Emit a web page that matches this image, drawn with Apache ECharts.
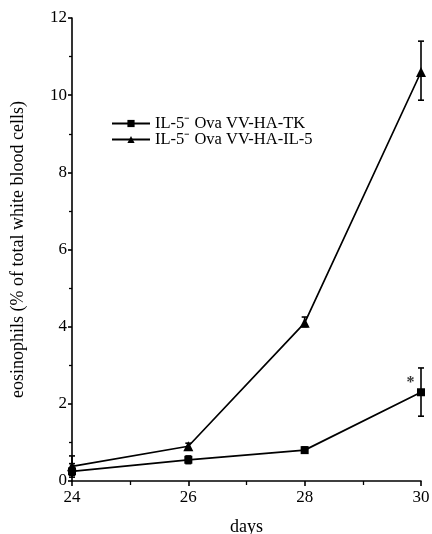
<!DOCTYPE html>
<html>
<head>
<meta charset="utf-8">
<script src="https://cdn.jsdelivr.net/npm/echarts@6/dist/echarts.min.js"></script>
<style>html,body{margin:0;padding:0;background:#fff}#c{width:432px;height:534px}</style>
</head>
<body>
<div id="c"></div>
<script>
const days = [24, 26, 28, 30];
const tkMean = [0.25, 0.55, 0.8, 2.3];
const tkLow = [0.1, 0.45, 0.72, 1.68];
const tkHigh = [0.45, 0.65, 0.88, 2.93];
const il5Mean = [0.38, 0.9, 4.1, 10.6];
const il5Low = [0.15, 0.82, 4.0, 9.87];
const il5High = [0.65, 0.98, 4.25, 11.4];
const tkName = 'IL-5\u207B Ova VV-HA-TK';
const il5Name = 'IL-5\u207B Ova VV-HA-IL-5';
const starPoint = [29.82, 2.55];
const yTicks = [0, 2, 4, 6, 8, 10, 12];

const FONT = 'Liberation Serif';
const chart = echarts.init(document.getElementById('c'));

function errData(low, high) {
  return days.map((d, i) => [d, low[i], high[i]]);
}
function errSeries(low, high) {
  return {
    type: 'custom',
    data: errData(low, high),
    silent: true,
    z: 1,
    renderItem: function (params, api) {
      const x = api.value(0);
      const lo = api.coord([x, api.value(1)]);
      const hi = api.coord([x, api.value(2)]);
      const w = 3;
      const st = { stroke: '#000', lineWidth: 1.6 };
      return {
        type: 'group',
        children: [
          { type: 'line', shape: { x1: lo[0], y1: lo[1], x2: hi[0], y2: hi[1] }, style: st },
          { type: 'line', shape: { x1: lo[0] - w, y1: lo[1], x2: lo[0] + w, y2: lo[1] }, style: st },
          { type: 'line', shape: { x1: hi[0] - w, y1: hi[1], x2: hi[0] + w, y2: hi[1] }, style: st }
        ]
      };
    }
  };
}

chart.setOption({
  animation: false,
  backgroundColor: '#fff',
  textStyle: { fontFamily: FONT, color: '#000' },
  grid: { left: 72, right: 11, top: 18, bottom: 53, containLabel: false, outerBoundsMode: 'none' },
  legend: {
    left: 106, top: 110, orient: 'vertical',
    itemWidth: 38, itemHeight: 9, itemGap: -1,
    textStyle: { fontFamily: FONT, fontSize: 16.5, color: '#000' },
    data: [tkName, il5Name]
  },
  xAxis: {
    type: 'value', min: 24, max: 30, interval: 2,
    name: 'days', nameLocation: 'middle', nameGap: 37,
    nameTextStyle: { fontFamily: FONT, fontSize: 18, color: '#000' },
    axisLine: { lineStyle: { color: '#000', width: 1.6 } },
    axisTick: { show: true, length: 5, lineStyle: { color: '#000', width: 1.6 } },
    minorTick: { show: true, splitNumber: 2, length: 4, lineStyle: { color: '#000', width: 1.3 } },
    axisLabel: { fontFamily: FONT, fontSize: 17, color: '#000', margin: 8 },
    splitLine: { show: false }
  },
  yAxis: {
    type: 'value', min: 0, max: 12, interval: 2,
    name: 'eosinophils (% of total white blood cells)', nameLocation: 'middle', nameGap: 45,
    nameTextStyle: { fontFamily: FONT, fontSize: 18, color: '#000' },
    axisLine: { show: true, lineStyle: { color: '#000', width: 1.6 } },
    axisTick: { show: true, length: 4, lineStyle: { color: '#000', width: 1.6 } },
    minorTick: { show: true, splitNumber: 2, length: 3, lineStyle: { color: '#000', width: 1.3 } },
    axisLabel: { fontFamily: FONT, fontSize: 17, color: '#000', margin: 5,
      formatter: v => yTicks.includes(v) ? String(v) : '' },
    splitLine: { show: false }
  },
  series: [
    errSeries(tkLow, tkHigh),
    errSeries(il5Low, il5High),
    {
      name: tkName, type: 'line', z: 3,
      data: days.map((d, i) => [d, tkMean[i]]),
      symbol: 'rect', symbolSize: 8,
      lineStyle: { color: '#000', width: 1.7 },
      itemStyle: { color: '#000' }
    },
    {
      name: il5Name, type: 'line', z: 3,
      data: days.map((d, i) => [d, il5Mean[i]]),
      symbol: 'triangle', symbolSize: 10,
      lineStyle: { color: '#000', width: 1.7 },
      itemStyle: { color: '#000' }
    },
    {
      type: 'scatter', symbolSize: 0, silent: true,
      data: [starPoint],
      label: { show: true, formatter: '*', position: 'inside',
        fontFamily: FONT, fontSize: 16, fontWeight: 'bold', color: '#000' }
    }
  ]
});
</script>
</body>
</html>
